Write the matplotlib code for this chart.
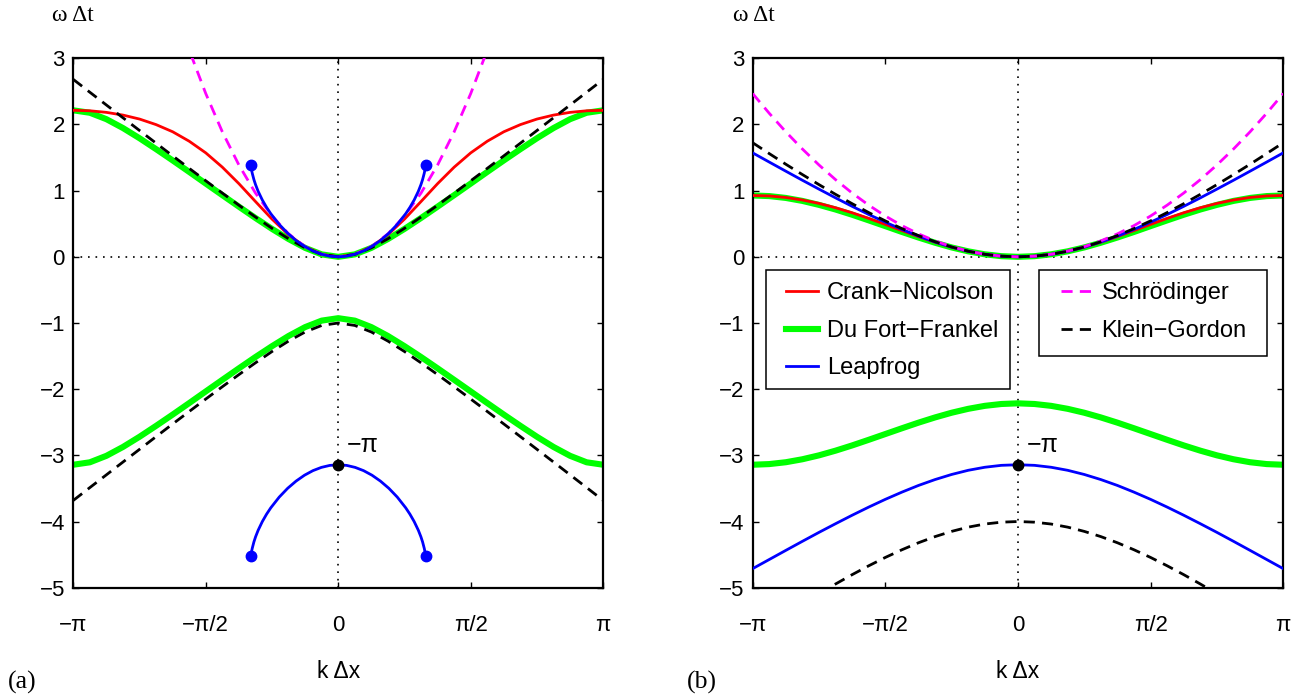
import numpy as np
import matplotlib.pyplot as plt
from matplotlib.patches import Rectangle

plt.rcParams['font.family'] = ['Liberation Sans', 'DejaVu Sans']
SERIF = ['Liberation Serif', 'DejaVu Serif']

# sample points, in steps of pi/16
k16 = np.arange(-16, 17) * np.pi / 16
k10 = np.arange(-10, 11) * np.pi / 16
k12 = np.arange(-12, 13) * np.pi / 16

# ---------- panel (a) ----------
cn_a = [2.214, 2.207, 2.183, 2.142, 2.082, 1.998, 1.890, 1.747, 1.571, 1.355, 1.106,
        0.836, 0.570, 0.334, 0.152, 0.038, 0.0, 0.038, 0.152, 0.334, 0.570, 0.836,
        1.106, 1.355, 1.571, 1.747, 1.890, 1.998, 2.082, 2.142, 2.183, 2.207, 2.214]
dff_a_up = [2.214, 2.177, 2.080, 1.946, 1.792, 1.627, 1.457, 1.283, 1.107, 0.932, 0.758,
            0.587, 0.422, 0.269, 0.135, 0.037, 0.0, 0.037, 0.135, 0.269, 0.422, 0.587,
            0.758, 0.932, 1.107, 1.283, 1.457, 1.627, 1.792, 1.946, 2.080, 2.177, 2.214]
dff_a_lo = [-3.142, -3.105, -3.007, -2.873, -2.719, -2.554, -2.384, -2.210, -2.034, -1.859,
            -1.685, -1.514, -1.350, -1.196, -1.062, -0.964, -0.927, -0.964, -1.062, -1.196,
            -1.350, -1.514, -1.685, -1.859, -2.034, -2.210, -2.384, -2.554, -2.719, -2.873,
            -3.007, -3.105, -3.142]
kg_a_up = [2.681, 2.487, 2.294, 2.101, 1.909, 1.717, 1.526, 1.337, 1.149, 0.963, 0.780,
           0.602, 0.431, 0.273, 0.136, 0.037, 0.0, 0.037, 0.136, 0.273, 0.431, 0.602,
           0.780, 0.963, 1.149, 1.337, 1.526, 1.717, 1.909, 2.101, 2.294, 2.487, 2.681]
kg_a_lo = [-3.681, -3.487, -3.294, -3.101, -2.909, -2.717, -2.526, -2.337, -2.149, -1.963,
           -1.780, -1.602, -1.431, -1.273, -1.136, -1.037, -1.000, -1.037, -1.136, -1.273,
           -1.431, -1.602, -1.780, -1.963, -2.149, -2.337, -2.526, -2.717, -2.909, -3.101,
           -3.294, -3.487, -3.681]
sch_a = [3.855, 3.123, 2.467, 1.889, 1.388, 0.964, 0.617, 0.347, 0.154, 0.039, 0.0,
         0.039, 0.154, 0.347, 0.617, 0.964, 1.388, 1.889, 2.467, 3.123, 3.855]

# leapfrog only exists for |k| < ~1.04 here
k_lf = [-1.037, -1.03, -1.02, -1.0, -0.98, -0.95, -0.9, -0.85, -0.8, -0.7, -0.6, -0.5,
        -0.4, -0.3, -0.2, -0.1, 0.0, 0.1, 0.2, 0.3, 0.4, 0.5, 0.6, 0.7, 0.8, 0.85, 0.9,
        0.95, 0.98, 1.0, 1.02, 1.03, 1.037]
lf_a_up = [1.383, 1.327, 1.264, 1.167, 1.089, 0.991, 0.858, 0.748, 0.652, 0.490, 0.357,
           0.247, 0.159, 0.089, 0.040, 0.010, 0.0, 0.010, 0.040, 0.089, 0.159, 0.247,
           0.357, 0.490, 0.652, 0.748, 0.858, 0.991, 1.089, 1.167, 1.264, 1.327, 1.383]
lf_a_lo = [-4.524, -4.468, -4.406, -4.308, -4.230, -4.133, -4.000, -3.889, -3.793, -3.631,
           -3.498, -3.389, -3.300, -3.231, -3.182, -3.152, -3.142, -3.152, -3.182, -3.231,
           -3.300, -3.389, -3.498, -3.631, -3.793, -3.889, -4.000, -4.133, -4.230, -4.308,
           -4.406, -4.468, -4.524]

# ---------- panel (b) ----------
cn_b = [0.927, 0.920, 0.897, 0.859, 0.807, 0.742, 0.666, 0.581, 0.490, 0.397, 0.306,
        0.221, 0.146, 0.084, 0.038, 0.010, 0.0, 0.010, 0.038, 0.084, 0.146, 0.221,
        0.306, 0.397, 0.490, 0.581, 0.666, 0.742, 0.807, 0.859, 0.897, 0.920, 0.927]
dff_b_up = [0.927, 0.918, 0.890, 0.845, 0.785, 0.715, 0.636, 0.551, 0.464, 0.376, 0.292,
            0.213, 0.142, 0.083, 0.038, 0.010, 0.0, 0.010, 0.038, 0.083, 0.142, 0.213,
            0.292, 0.376, 0.464, 0.551, 0.636, 0.715, 0.785, 0.845, 0.890, 0.918, 0.927]
dff_b_lo = [-3.142, -3.132, -3.104, -3.059, -3.000, -2.929, -2.850, -2.765, -2.678, -2.591,
            -2.506, -2.427, -2.356, -2.297, -2.252, -2.224, -2.214, -2.224, -2.252, -2.297,
            -2.356, -2.427, -2.506, -2.591, -2.678, -2.765, -2.850, -2.929, -3.000, -3.059,
            -3.104, -3.132, -3.142]
lf_b_up = [1.571, 1.432, 1.294, 1.157, 1.023, 0.891, 0.763, 0.640, 0.524, 0.414, 0.314,
           0.224, 0.147, 0.084, 0.038, 0.010, 0.0, 0.010, 0.038, 0.084, 0.147, 0.224,
           0.314, 0.414, 0.524, 0.640, 0.763, 0.891, 1.023, 1.157, 1.294, 1.432, 1.571]
lf_b_lo = [-4.712, -4.574, -4.436, -4.299, -4.164, -4.033, -3.905, -3.782, -3.665, -3.556,
           -3.455, -3.366, -3.289, -3.226, -3.180, -3.151, -3.142, -3.151, -3.180, -3.226,
           -3.289, -3.366, -3.455, -3.556, -3.665, -3.782, -3.905, -4.033, -4.164, -4.299,
           -4.436, -4.574, -4.712]
sch_b = [2.467, 2.169, 1.889, 1.629, 1.388, 1.166, 0.964, 0.781, 0.617, 0.472, 0.347,
         0.241, 0.154, 0.087, 0.039, 0.010, 0.0, 0.010, 0.039, 0.087, 0.154, 0.241,
         0.347, 0.472, 0.617, 0.781, 0.964, 1.166, 1.388, 1.629, 1.889, 2.169, 2.467]
kg_b_up = [1.724, 1.560, 1.399, 1.243, 1.091, 0.944, 0.803, 0.669, 0.543, 0.427, 0.321,
           0.228, 0.149, 0.085, 0.038, 0.010, 0.0, 0.010, 0.038, 0.085, 0.149, 0.228,
           0.321, 0.427, 0.543, 0.669, 0.803, 0.944, 1.091, 1.243, 1.399, 1.560, 1.724]
kg_b_lo = [-5.091, -4.944, -4.803, -4.669, -4.543, -4.427, -4.321, -4.228, -4.149, -4.085,
           -4.038, -4.010, -4.000, -4.010, -4.038, -4.085, -4.149, -4.228, -4.321, -4.427,
           -4.543, -4.669, -4.803, -4.944, -5.091]

xtick_vals = [-np.pi, -np.pi / 2, 0, np.pi / 2, np.pi]
xtick_txt = ['\u2212\u03c0', '\u2212\u03c0/2', '0', '\u03c0/2', '\u03c0']
ytick_vals = [-5, -4, -3, -2, -1, 0, 1, 2, 3]
ytick_txt = ['\u22125', '\u22124', '\u22123', '\u22122', '\u22121', '0', '1', '2', '3']

RED, GREEN, BLUE, MAG = '#ff0000', '#00ff00', '#0000ff', '#ff00ff'
DASH = (0, (4, 2.6))
DOT = (0, (1, 3.5))
TICK_FS = 16

fig = plt.figure(figsize=(13.09, 6.95), dpi=100)
ax_a = fig.add_axes([0.0560, 0.1544, 0.4048, 0.7617])
ax_b = fig.add_axes([0.5750, 0.1544, 0.4053, 0.7617])


def frame(ax):
    ax.axhline(0, color='k', ls=DOT, lw=1.2, zorder=1)
    ax.axvline(0, color='k', ls=DOT, lw=1.2, zorder=1)
    ax.set_xlim(-np.pi, np.pi)
    ax.set_ylim(-5, 3)
    ax.set_xticks(xtick_vals)
    ax.set_xticklabels(xtick_txt, fontsize=TICK_FS)
    ax.set_yticks(ytick_vals)
    ax.set_yticklabels(ytick_txt, fontsize=TICK_FS)
    ax.tick_params(direction='in', length=4.5, width=1, top=True, right=True)
    ax.tick_params(axis='x', pad=20)
    ax.tick_params(axis='y', pad=6)
    for s in ax.spines.values():
        s.set_linewidth(1.6)


# panel (a)
frame(ax_a)
ax_a.plot(k16, dff_a_up, color=GREEN, lw=4.4, zorder=2)
ax_a.plot(k16, dff_a_lo, color=GREEN, lw=4.4, zorder=2)
ax_a.plot(k16, cn_a, color=RED, lw=2, zorder=3)
ax_a.plot(k10, sch_a, color=MAG, lw=2, ls=DASH, zorder=4)
ax_a.plot(k16, kg_a_up, color='k', lw=2, ls=DASH, zorder=4)
ax_a.plot(k16, kg_a_lo, color='k', lw=2, ls=DASH, zorder=4)
ax_a.plot(k_lf, lf_a_up, color=BLUE, lw=2, zorder=5)
ax_a.plot(k_lf, lf_a_lo, color=BLUE, lw=2, zorder=5)
ax_a.plot([k_lf[0], k_lf[-1]], [lf_a_up[0], lf_a_up[-1]], 'o', color=BLUE, ms=7.5, zorder=6)
ax_a.plot([k_lf[0], k_lf[-1]], [lf_a_lo[0], lf_a_lo[-1]], 'o', color=BLUE, ms=7.5, zorder=6)
ax_a.plot([0], [lf_a_lo[16]], 'o', color='k', ms=7.5, zorder=7)
ax_a.text(0.1, -2.85, '\u2212\u03c0', fontsize=18, ha='left', va='center')

# panel (b)
frame(ax_b)
h_dff, = ax_b.plot(k16, dff_b_up, color=GREEN, lw=4.4, zorder=2, label='Du Fort\u2212Frankel')
ax_b.plot(k16, dff_b_lo, color=GREEN, lw=4.4, zorder=2)
h_cn, = ax_b.plot(k16, cn_b, color=RED, lw=2, zorder=3, label='Crank\u2212Nicolson')
h_lf, = ax_b.plot(k16, lf_b_up, color=BLUE, lw=2, zorder=3, label='Leapfrog')
ax_b.plot(k16, lf_b_lo, color=BLUE, lw=2, zorder=3)
h_sch, = ax_b.plot(k16, sch_b, color=MAG, lw=2, ls=DASH, zorder=4, label='Schr\u00f6dinger')
h_kg, = ax_b.plot(k16, kg_b_up, color='k', lw=2, ls=DASH, zorder=4, label='Klein\u2212Gordon')
ax_b.plot(k12, kg_b_lo, color='k', lw=2, ls=DASH, zorder=4)
ax_b.plot([0], [lf_b_lo[16]], 'o', color='k', ms=7.5, zorder=7)
ax_b.text(0.1, -2.85, '\u2212\u03c0', fontsize=18, ha='left', va='center')

# legend boxes drawn by hand, entries placed inside without a frame
for x0, y0, w, h in [(0.0256, 0.3753, 0.4593, 0.2248), (0.5401, 0.4377, 0.4298, 0.1624)]:
    ax_b.add_patch(Rectangle((x0, y0), w, h, transform=ax_b.transAxes, facecolor='white',
                             edgecolor='k', lw=1.1, zorder=8))
leg_kw = dict(frameon=False, loc='upper left', borderpad=0, borderaxespad=0,
              handlelength=1.36, handletextpad=0.37, labelspacing=0.66, fontsize=17)
leg1 = ax_b.legend(handles=[h_cn, h_dff, h_lf], bbox_to_anchor=(0.0628, 0.577), **leg_kw)
leg1.set_zorder(9)
ax_b.add_artist(leg1)
leg2 = ax_b.legend(handles=[h_sch, h_kg], bbox_to_anchor=(0.5805, 0.577), **leg_kw)
leg2.set_zorder(9)

# axis captions
for x_lab, x_mid, tag, x_tag in [(0.0395, 0.2584, '(a)', 0.0063), (0.5596, 0.7777, '(b)', 0.525)]:
    fig.text(x_lab, 0.9702, '\u03c9 \u0394t', family=SERIF, fontsize=17, va='baseline')
    fig.text(x_mid, 0.0245, 'k \u0394x', fontsize=16.5, ha='center', va='baseline')
    fig.text(x_tag, 0.0098, tag, family=SERIF, fontsize=18.5, va='baseline')

fig.savefig('out.png', dpi=100)
